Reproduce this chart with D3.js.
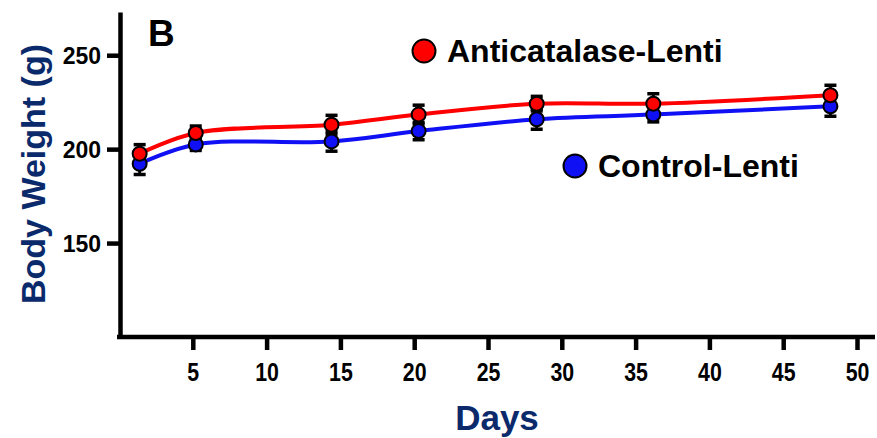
<!DOCTYPE html>
<html>
<head>
<meta charset="utf-8">
<script src="https://cdn.jsdelivr.net/npm/d3@7"></script>
<style>
  html, body { margin: 0; padding: 0; background: #fff; }
  svg { display: block; }
  text { font-family: "Liberation Sans", Arial, sans-serif; font-weight: bold; }
</style>
</head>
<body>
<svg id="chart" width="877" height="438"></svg>
<script>
// ---- data ----
const days = [1.4, 5.2, 14.4, 20.3, 28.3, 36.2, 48.2];
const anticatalase = [197.6, 208.6, 213.0, 218.4, 224.2, 224.2, 228.7];
const anticatalaseErr = [4.8, 3.7, 5.0, 5.0, 3.9, 5.3, 5.3];
const control = [192.2, 202.5, 204.1, 209.6, 215.9, 218.4, 222.8];
const controlErr = [5.7, 3.2, 5.2, 4.6, 5.3, 3.9, 5.3];
const xTicks = [5, 10, 15, 20, 25, 30, 35, 40, 45, 50];
const yTicks = [150, 200, 250];
const seriesNames = ["Anticatalase-Lenti", "Control-Lenti"];

const svg = d3.select("#chart");
const x = d3.scaleLinear().domain([0, 50]).range([119, 857]);
const y = d3.scaleLinear().domain([100, 273]).range([337, 12]);
const navy = "#0b2a6b";

// axes
const yAxis = svg.append("g").attr("transform", "translate(120,0)")
  .call(d3.axisLeft(y).tickValues(yTicks).tickSize(13).tickSizeOuter(0).tickPadding(6));
yAxis.select(".domain").attr("stroke", "#000").attr("stroke-width", 4.5);
yAxis.selectAll(".tick line").attr("stroke", "#000").attr("stroke-width", 4.5);
yAxis.selectAll(".tick text").attr("fill", "#000").style("font-size", "23px")
  .attr("dy", "0.36em");

const xAxis = svg.append("g").attr("transform", "translate(0,337)")
  .call(d3.axisBottom(x).tickValues(xTicks).tickSize(13).tickSizeOuter(0).tickPadding(14));
xAxis.select(".domain").attr("stroke", "#000").attr("stroke-width", 4.5)
  .attr("d", `M${x(0) - 2},0H${x(50) + 18}`);
xAxis.selectAll(".tick line").attr("stroke", "#000").attr("stroke-width", 4.5);
xAxis.selectAll(".tick text").attr("fill", "#000").style("font-size", "26px")
  .attr("y", 0).attr("dy", 0)
  .attr("transform", "translate(0,44) scale(0.82,1)");

// axis titles
svg.append("text").attr("x", 497).attr("y", 430).attr("text-anchor", "middle")
  .attr("fill", navy).style("font-size", "35px").text("Days");
svg.append("text").attr("transform", "translate(45,174) rotate(-90)")
  .attr("text-anchor", "middle").attr("fill", navy).style("font-size", "34px")
  .text("Body Weight (g)");
svg.append("text").attr("x", 148).attr("y", 46).attr("fill", "#000")
  .style("font-size", "37px").text("B");

// series
const series = [
  { name: seriesNames[1], vals: control, err: controlErr, color: "#1010f5" },
  { name: seriesNames[0], vals: anticatalase, err: anticatalaseErr, color: "#ff0000" }
];
const line = d3.line().curve(d3.curveCatmullRom.alpha(0.5))
  .x((d, i) => x(days[i])).y(d => y(d));

series.forEach(s => {
  svg.append("path").datum(s.vals).attr("d", line).attr("fill", "none")
    .attr("stroke", s.color).attr("stroke-width", 4);
});
series.forEach(s => {
  const g = svg.append("g");
  s.vals.forEach((v, i) => {
    const cx = x(days[i]);
    g.append("line").attr("x1", cx).attr("x2", cx)
      .attr("y1", y(v - s.err[i])).attr("y2", y(v + s.err[i]))
      .attr("stroke", "#000").attr("stroke-width", 3);
    [v - s.err[i], v + s.err[i]].forEach(e => {
      g.append("line").attr("x1", cx - 6).attr("x2", cx + 6)
        .attr("y1", y(e)).attr("y2", y(e))
        .attr("stroke", "#000").attr("stroke-width", 3.5);
    });
  });
});
series.forEach(s => {
  svg.append("g").selectAll("circle").data(s.vals).join("circle")
    .attr("cx", (d, i) => x(days[i])).attr("cy", d => y(d)).attr("r", 7)
    .attr("fill", s.color).attr("stroke", "#000").attr("stroke-width", 2);
});

// legend
const legend = [
  { name: seriesNames[0], color: "#ff0000", cx: 424, cy: 51 },
  { name: seriesNames[1], color: "#1010f5", cx: 575, cy: 166 }
];
legend.forEach(l => {
  svg.append("circle").attr("cx", l.cx).attr("cy", l.cy).attr("r", 11.5)
    .attr("fill", l.color).attr("stroke", "#000").attr("stroke-width", 2);
  svg.append("text").attr("x", l.cx + 23).attr("y", l.cy + 11).attr("fill", "#000")
    .style("font-size", "32px").text(l.name);
});
</script>
</body>
</html>
